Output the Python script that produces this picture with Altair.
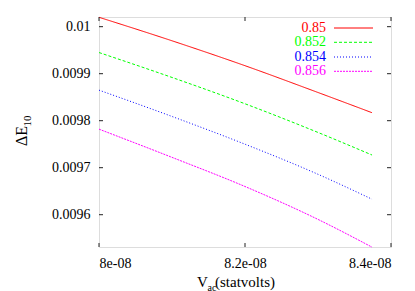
import altair as alt
import pandas as pd

# ---- data ----
series_labels = ["0.85", "0.852", "0.854", "0.856"]
series_colors = ["#ff0000", "#00ff00", "#0000ff", "#ff00ff"]
series_dashes = [[1, 0], [3, 2], [1, 2], [2, 1]]

v_ac = [8.0e-08, 8.1e-08, 8.2e-08, 8.3e-08, 8.374e-08]
dE_085 = [0.010020, 0.009970, 0.009917, 0.009860, 0.009817]
dE_0852 = [0.009945, 0.009892, 0.009836, 0.009775, 0.009727]
dE_0854 = [0.009865, 0.009809, 0.009750, 0.009686, 0.009633]
dE_0856 = [0.009782, 0.009722, 0.009660, 0.009590, 0.009531]

x_ticks = [8.0e-08, 8.2e-08, 8.4e-08]
x_tick_labels = ["8e-08", "8.2e-08", "8.4e-08"]
y_ticks = [0.0096, 0.0097, 0.0098, 0.0099, 0.01]

x_domain = [8.0e-08, 8.4e-08]
y_domain = [0.0095313, 0.0100206]

W, H = 292, 230
FONT = "'Liberation Serif', 'Times New Roman', 'DejaVu Serif', serif"
INK = "#222222"

rows = []
for lab, ys in zip(series_labels, [dE_085, dE_0852, dE_0854, dE_0856]):
    for xv, yv in zip(v_ac, ys):
        rows.append({"series": lab, "V": xv, "dE": yv})
df = pd.DataFrame(rows)

xs = alt.Scale(domain=x_domain, nice=False, zero=False)
ys_ = alt.Scale(domain=y_domain, nice=False, zero=False)

label_expr = " : ".join(
    f"abs(datum.value - {v}) < 1e-10 ? '{l}'" for v, l in zip(x_ticks, x_tick_labels)
) + " : ''"

lines = alt.Chart(df).mark_line(strokeWidth=1, interpolate="monotone").encode(
    x=alt.X("V:Q", scale=xs,
            axis=alt.Axis(values=x_ticks, labelExpr=label_expr, title=None, grid=False,
                          domain=False, ticks=False, tickSize=0, labelPadding=9,
                          labelFont=FONT, labelFontSize=14, labelColor="#000")),
    y=alt.Y("dE:Q", scale=ys_,
            axis=alt.Axis(values=y_ticks, labelExpr="format(datum.value, '.2~r')", title=None,
                          grid=False, domain=False, ticks=False, tickSize=0, labelPadding=9,
                          labelFont=FONT, labelFontSize=14, labelColor="#000")),
    color=alt.Color("series:N", scale=alt.Scale(domain=series_labels, range=series_colors), legend=None),
    strokeDash=alt.StrokeDash("series:N", scale=alt.Scale(domain=series_labels, range=series_dashes), legend=None),
    detail="series:N",
)

ytick_df = pd.DataFrame({"t": y_ticks})
xtick_df = pd.DataFrame({"t": x_ticks})
TK = 4
ytl = alt.Chart(ytick_df).mark_rule(color=INK, strokeWidth=1).encode(
    y=alt.Y("t:Q", scale=ys_), x=alt.value(0), x2=alt.value(TK))
ytr = alt.Chart(ytick_df).mark_rule(color=INK, strokeWidth=1).encode(
    y=alt.Y("t:Q", scale=ys_), x=alt.value(W - TK), x2=alt.value(W))
xtb = alt.Chart(xtick_df).mark_rule(color=INK, strokeWidth=1).encode(
    x=alt.X("t:Q", scale=xs), y=alt.value(H - TK), y2=alt.value(H))
xtt = alt.Chart(xtick_df).mark_rule(color=INK, strokeWidth=1).encode(
    x=alt.X("t:Q", scale=xs), y=alt.value(0), y2=alt.value(TK))

layers = [lines, ytl, ytr, xtb, xtt]

# legend (top right, inside)
leg_y = [11, 25.3, 40, 54.3]
for lab, col, dash, yy in zip(series_labels, series_colors, series_dashes, leg_y):
    layers.append(alt.Chart(pd.DataFrame({"t": [lab]})).mark_text(
        align="right", baseline="middle", font=FONT, fontSize=14, color=col).encode(
        text="t:N", x=alt.value(227), y=alt.value(yy)))
    layers.append(alt.Chart(pd.DataFrame({"t": [lab]})).mark_rule(
        color=col, strokeWidth=1, strokeDash=dash).encode(
        x=alt.value(235), x2=alt.value(274), y=alt.value(yy)))

# axis titles with subscripts
def txt(s, x, y, size, angle=0, align="left"):
    return alt.Chart(pd.DataFrame({"t": [s]})).mark_text(
        align=align, baseline="alphabetic", font=FONT, fontSize=size, color="#000",
        angle=angle).encode(text="t:N", x=alt.value(x), y=alt.value(y))

layers += [
    txt("V", 98, 270, 15),
    txt("ac", 108.5, 273.5, 10),
    txt("(statvolts)", 116, 270, 15),
    txt("\u0394E", -72, 129, 16, angle=270),
    txt("10", -68, 109.5, 11, angle=270),
]

chart = alt.layer(*layers).properties(
    width=W, height=H,
    autosize=alt.AutoSizeParams(type="none"),
    padding={"left": 91, "top": 9, "right": 16, "bottom": 44},
).configure_view(stroke=INK, strokeWidth=1).configure(background="white")

chart.save("out.html", embed_options={"renderer": "svg", "actions": False})
